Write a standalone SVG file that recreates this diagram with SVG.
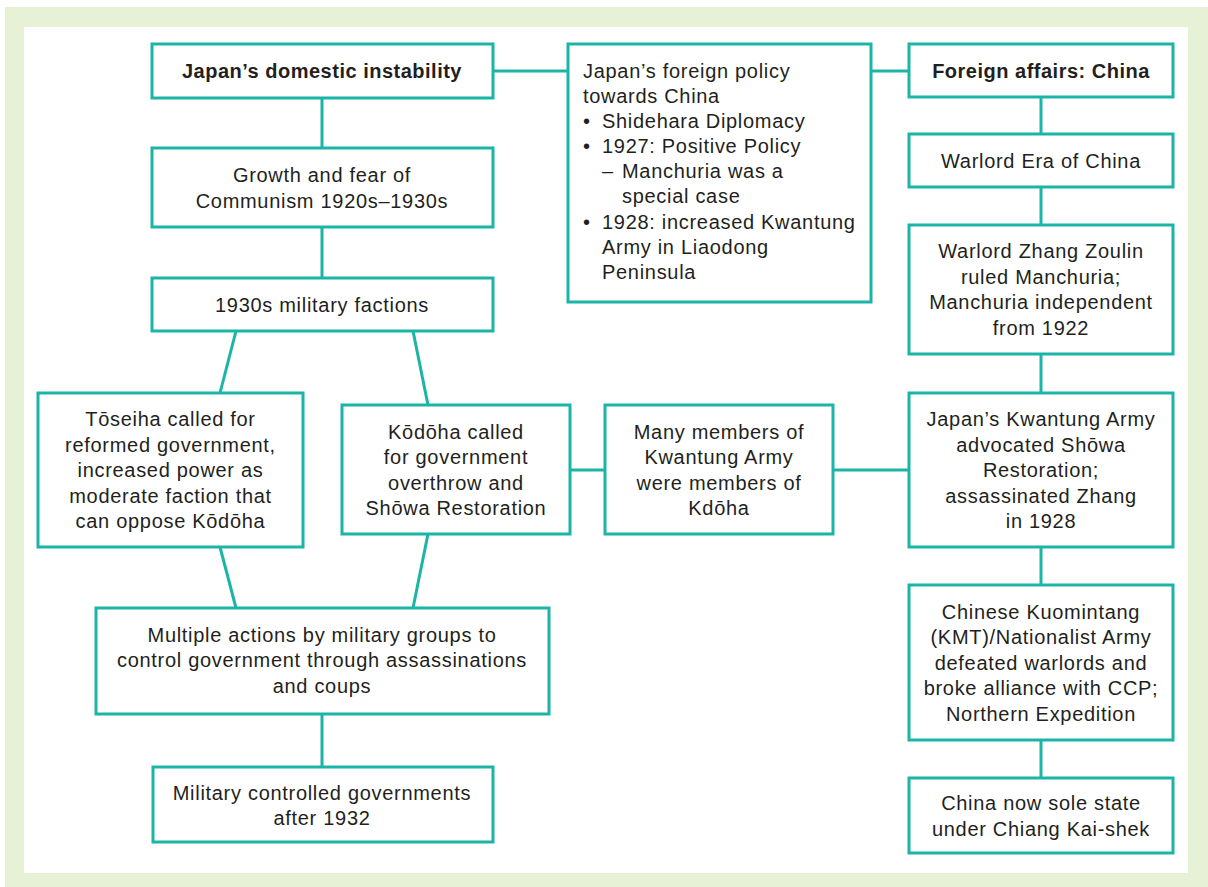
<svg xmlns="http://www.w3.org/2000/svg" width="1208" height="887" viewBox="0 0 1208 887">
<style>
.box{fill:#fff;stroke:#1bb5a8;stroke-width:3}
.ln{stroke:#1bb5a8;stroke-width:3;fill:none}
text{font-family:"Liberation Sans",Arial,sans-serif;font-size:20px;letter-spacing:0.7px;fill:#231f20}
.c{text-anchor:middle}
.b{font-weight:bold;letter-spacing:0.5px}
</style>
<rect x="5" y="7" width="1203" height="880" fill="#e6f1d6"/>
<rect x="24" y="27" width="1164" height="846" fill="#fff"/>
<g id="connectors">
<line class="ln" x1="493" y1="71" x2="567" y2="71"/>
<line class="ln" x1="871" y1="71" x2="908" y2="71"/>
<line class="ln" x1="322" y1="98" x2="322" y2="148"/>
<line class="ln" x1="322" y1="227" x2="322" y2="278"/>
<line class="ln" x1="236" y1="331" x2="220" y2="393"/>
<line class="ln" x1="413" y1="331" x2="428" y2="405"/>
<line class="ln" x1="220" y1="547" x2="236" y2="608"/>
<line class="ln" x1="428" y1="534" x2="413" y2="608"/>
<line class="ln" x1="570" y1="470" x2="604" y2="470"/>
<line class="ln" x1="833" y1="470" x2="908" y2="470"/>
<line class="ln" x1="322" y1="714" x2="322" y2="767"/>
<line class="ln" x1="1041" y1="97" x2="1041" y2="134"/>
<line class="ln" x1="1041" y1="187" x2="1041" y2="225"/>
<line class="ln" x1="1041" y1="354" x2="1041" y2="393"/>
<line class="ln" x1="1041" y1="547" x2="1041" y2="585"/>
<line class="ln" x1="1041" y1="740" x2="1041" y2="778"/>
</g>
<g id="domestic">
<rect class="box" x="152" y="44" width="341" height="54"/>
<text class="c b" x="322" y="78">Japan’s domestic instability</text>
</g>
<g id="foreign-policy">
<rect class="box" x="568" y="44" width="303" height="258"/>
<text x="583" y="78">Japan’s foreign policy</text>
<text x="583" y="103">towards China</text>
<text x="583" y="128">•</text><text x="602" y="128">Shidehara Diplomacy</text>
<text x="583" y="153">•</text><text x="602" y="153">1927: Positive Policy</text>
<text x="602" y="178">–</text><text x="622" y="178">Manchuria was a</text>
<text x="622" y="203">special case</text>
<text x="583" y="229">•</text><text x="602" y="229">1928: increased Kwantung</text>
<text x="602" y="254">Army in Liaodong</text>
<text x="602" y="279">Peninsula</text>
</g>
<g id="foreign-affairs">
<rect class="box" x="909" y="44" width="264" height="53"/>
<text class="c b" x="1041" y="77.5">Foreign affairs: China</text>
</g>
<g id="growth">
<rect class="box" x="152" y="148" width="341" height="79"/>
<text class="c" x="322" y="182">Growth and fear of</text>
<text class="c" x="322" y="207.5">Communism 1920s–1930s</text>
</g>
<g id="factions">
<rect class="box" x="152" y="278" width="341" height="53"/>
<text class="c" x="322" y="311.5">1930s military factions</text>
</g>
<g id="warlord-era">
<rect class="box" x="909" y="134" width="264" height="53"/>
<text class="c" x="1041" y="167.5">Warlord Era of China</text>
</g>
<g id="zhang">
<rect class="box" x="909" y="225" width="264" height="129"/>
<text class="c" x="1041" y="258">Warlord Zhang Zoulin</text>
<text class="c" x="1041" y="283.5">ruled Manchuria;</text>
<text class="c" x="1041" y="309">Manchuria independent</text>
<text class="c" x="1041" y="334.5">from 1922</text>
</g>
<g id="toseiha">
<rect class="box" x="38" y="393" width="265" height="154"/>
<text class="c" x="170.5" y="426">Tōseiha called for</text>
<text class="c" x="170.5" y="451.5">reformed government,</text>
<text class="c" x="170.5" y="477">increased power as</text>
<text class="c" x="170.5" y="502.5">moderate faction that</text>
<text class="c" x="170.5" y="528">can oppose Kōdōha</text>
</g>
<g id="kodoha">
<rect class="box" x="342" y="405" width="228" height="129"/>
<text class="c" x="456" y="438.5">Kōdōha called</text>
<text class="c" x="456" y="464">for government</text>
<text class="c" x="456" y="489.5">overthrow and</text>
<text class="c" x="456" y="515">Shōwa Restoration</text>
</g>
<g id="members">
<rect class="box" x="605" y="405" width="228" height="129"/>
<text class="c" x="719" y="438.5">Many members of</text>
<text class="c" x="719" y="464">Kwantung Army</text>
<text class="c" x="719" y="489.5">were members of</text>
<text class="c" x="719" y="515">Kdōha</text>
</g>
<g id="kwantung">
<rect class="box" x="909" y="393" width="264" height="154"/>
<text class="c" x="1041" y="426">Japan’s Kwantung Army</text>
<text class="c" x="1041" y="451.5">advocated Shōwa</text>
<text class="c" x="1041" y="477">Restoration;</text>
<text class="c" x="1041" y="502.5">assassinated Zhang</text>
<text class="c" x="1041" y="528">in 1928</text>
</g>
<g id="kmt">
<rect class="box" x="909" y="585" width="264" height="155"/>
<text class="c" x="1041" y="618.5">Chinese Kuomintang</text>
<text class="c" x="1041" y="644">(KMT)/Nationalist Army</text>
<text class="c" x="1041" y="669.5">defeated warlords and</text>
<text class="c" x="1041" y="695">broke alliance with CCP;</text>
<text class="c" x="1041" y="720.5">Northern Expedition</text>
</g>
<g id="sole-state">
<rect class="box" x="909" y="778" width="264" height="75"/>
<text class="c" x="1041" y="810">China now sole state</text>
<text class="c" x="1041" y="835.5">under Chiang Kai-shek</text>
</g>
<g id="multiple">
<rect class="box" x="96" y="608" width="453" height="106"/>
<text class="c" x="322" y="641.5">Multiple actions by military groups to</text>
<text class="c" x="322" y="667">control government through assassinations</text>
<text class="c" x="322" y="692.5">and coups</text>
</g>
<g id="military">
<rect class="box" x="153" y="767" width="340" height="75"/>
<text class="c" x="322" y="799.5">Military controlled governments</text>
<text class="c" x="322" y="825">after 1932</text>
</g>
</svg>
